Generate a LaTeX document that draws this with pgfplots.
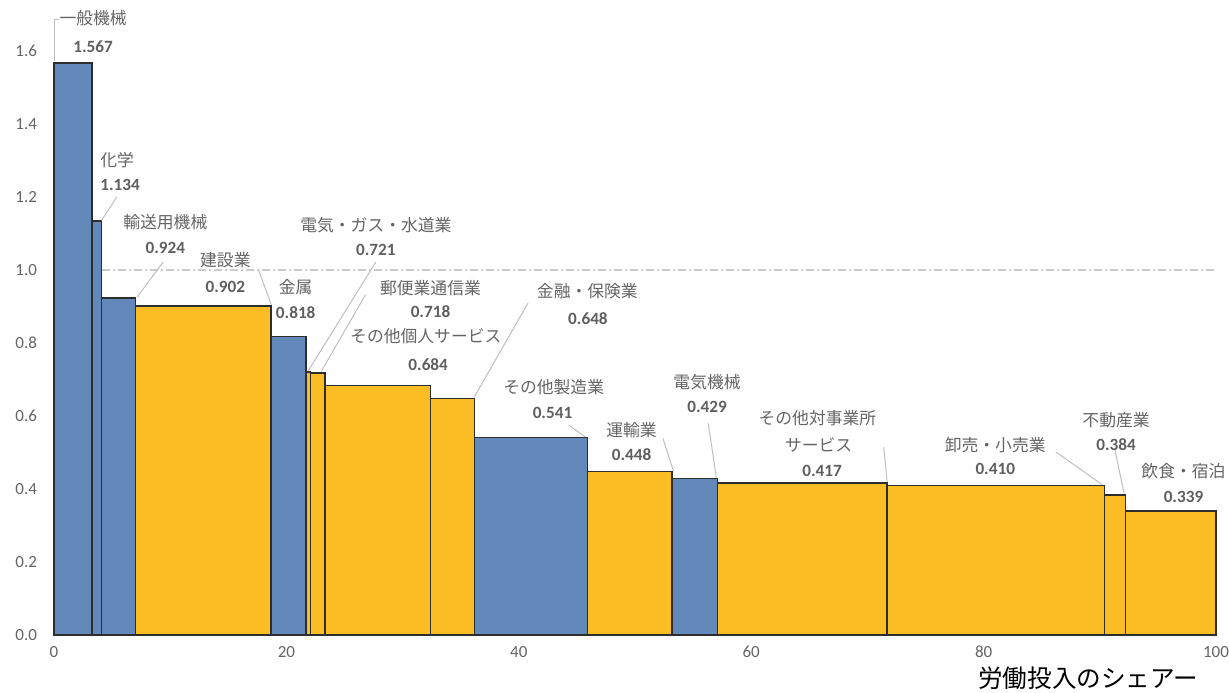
\documentclass[border=0pt]{standalone}
\usepackage{pgfplots}
\pgfplotsset{compat=1.18}
\usepackage{fontspec}
\setmainfont{Carlito}
\newfontfamily\cjk{Noto Sans CJK JP}
\definecolor{mblue}{RGB}{99,137,186}
\definecolor{morange}{RGB}{250,189,36}
\definecolor{txtgrey}{RGB}{100,100,100}
\definecolor{valgrey}{RGB}{95,95,95}
\definecolor{leader}{RGB}{190,190,190}
\definecolor{edge}{RGB}{45,45,45}
\tikzset{
  nm/.style={font=\cjk\fontsize{8.4}{10}\selectfont, text=txtgrey, inner sep=0pt},
  val/.style={font=\bfseries\fontsize{8.6}{10}\selectfont, text=valgrey, inner sep=0pt},
  ld/.style={draw=leader, line width=0.5pt},
}
\begin{document}
\begin{tikzpicture}
\useasboundingbox (-27pt,-28.5pt) rectangle (587.5pt,317.5pt);
\begin{axis}[
  at={(0,0)}, anchor=south west,
  scale only axis, width=581pt, height=313.9pt,
  xmin=0, xmax=100, ymin=0, ymax=1.72,
  axis line style={draw=none},
  major tick length=0pt,
  xtick={0,20,40,60,80,100},
  ytick={0,0.2,0.4,0.6,0.8,1.0,1.2,1.4,1.6},
  yticklabel style={/pgf/number format/fixed, /pgf/number format/fixed zerofill, /pgf/number format/precision=1, xshift=-5pt},
  /pgf/number format/assume math mode=true,
  ticklabel style={font=\fontsize{8.5}{10}\selectfont, text=txtgrey},
  xticklabel style={yshift=-2pt},
  clip=false,
]
% reference line at 1.0
\addplot[draw=leader!80!white, line width=0.6pt, dash pattern=on 4pt off 1.5pt on 1pt off 1.5pt] coordinates {(0,1) (100,1)};
% bars: (left, height) ... (right, height)
\addplot[draw=edge, line width=0.8pt, fill=mblue]   coordinates {(0,1.567) (3.25,1.567)} \closedcycle;   % 一般機械
\addplot[draw=edge, line width=0.8pt, fill=mblue]   coordinates {(3.25,1.134) (4.08,1.134)} \closedcycle; % 化学
\addplot[draw=edge, line width=0.8pt, fill=mblue]   coordinates {(4.08,0.924) (7.0,0.924)} \closedcycle;  % 輸送用機械
\addplot[draw=edge, line width=0.8pt, fill=morange] coordinates {(7.0,0.902) (18.7,0.902)} \closedcycle;  % 建設業
\addplot[draw=edge, line width=0.8pt, fill=mblue]   coordinates {(18.7,0.818) (21.7,0.818)} \closedcycle; % 金属
\addplot[draw=edge, line width=0.8pt, fill=morange] coordinates {(21.7,0.721) (22.07,0.721)} \closedcycle; % 電気・ガス・水道業
\addplot[draw=edge, line width=0.8pt, fill=morange] coordinates {(22.07,0.718) (23.3,0.718)} \closedcycle; % 郵便業通信業
\addplot[draw=edge, line width=0.8pt, fill=morange] coordinates {(23.3,0.684) (32.4,0.684)} \closedcycle; % その他個人サービス
\addplot[draw=edge, line width=0.8pt, fill=morange] coordinates {(32.4,0.648) (36.2,0.648)} \closedcycle; % 金融・保険業
\addplot[draw=edge, line width=0.8pt, fill=mblue]   coordinates {(36.2,0.541) (45.9,0.541)} \closedcycle; % その他製造業
\addplot[draw=edge, line width=0.8pt, fill=morange] coordinates {(45.9,0.448) (53.2,0.448)} \closedcycle; % 運輸業
\addplot[draw=edge, line width=0.8pt, fill=mblue]   coordinates {(53.2,0.429) (57.1,0.429)} \closedcycle; % 電気機械
\addplot[draw=edge, line width=0.8pt, fill=morange] coordinates {(57.1,0.417) (71.7,0.417)} \closedcycle; % その他対事業所サービス
\addplot[draw=edge, line width=0.8pt, fill=morange] coordinates {(71.7,0.410) (90.4,0.410)} \closedcycle; % 卸売・小売業
\addplot[draw=edge, line width=0.8pt, fill=morange] coordinates {(90.4,0.384) (92.2,0.384)} \closedcycle; % 不動産業
\addplot[draw=edge, line width=0.8pt, fill=morange] coordinates {(92.2,0.339) (100,0.339)} \closedcycle;  % 飲食・宿泊
% leader lines
\draw[ld] (axis cs:0,1.572) -- (axis cs:0,1.685) -- (axis cs:0.4,1.685);
\draw[ld] (axis cs:4.1,1.136) -- (axis cs:5.4,1.2);
\draw[ld] (axis cs:7.16,0.926) -- (axis cs:9.4,1.022);
\draw[ld] (axis cs:17.6,1.0) -- (axis cs:18.7,0.905);
\draw[ld] (axis cs:27.7,1.022) -- (axis cs:21.9,0.725);
\draw[ld] (axis cs:26.8,0.932) -- (axis cs:23.0,0.722);
\draw[ld] (axis cs:36.15,0.651) -- (axis cs:40.8,0.910);
\draw[ld] (axis cs:44.3,0.575) -- (axis cs:45.7,0.543);
\draw[ld] (axis cs:52.4,0.539) -- (axis cs:53.3,0.45);
\draw[ld] (axis cs:56.3,0.58) -- (axis cs:57.0,0.431);
\draw[ld] (axis cs:71.4,0.515) -- (axis cs:71.7,0.419);
\draw[ld] (axis cs:86.2,0.502) -- (axis cs:90.2,0.412);
\draw[ld] (axis cs:91.3,0.507) -- (axis cs:92.1,0.386);
% labels
\node[nm]  at (axis cs:3.37,1.690) {一般機械};
\node[val] at (axis cs:3.37,1.611) {1.567};
\node[nm]  at (axis cs:5.44,1.301) {化学};
\node[val] at (axis cs:5.69,1.233) {1.134};
\node[nm]  at (axis cs:9.58,1.132) {輸送用機械};
\node[val] at (axis cs:9.58,1.060) {0.924};
\node[nm]  at (axis cs:14.75,1.027) {建設業};
\node[val] at (axis cs:14.75,0.953) {0.902};
\node[nm]  at (axis cs:20.8,0.953) {金属};
\node[val] at (axis cs:20.8,0.882) {0.818};
\node[nm]  at (axis cs:27.7,1.123) {電気・ガス・水道業};
\node[val] at (axis cs:27.7,1.055) {0.721};
\node[nm]  at (axis cs:32.4,0.951) {郵便業通信業};
\node[val] at (axis cs:32.4,0.885) {0.718};
\node[nm]  at (axis cs:32.0,0.819) {その他個人サービス};
\node[val] at (axis cs:32.2,0.742) {0.684};
\node[nm]  at (axis cs:45.9,0.941) {金融・保険業};
\node[val] at (axis cs:45.95,0.868) {0.648};
\node[nm]  at (axis cs:43.0,0.680) {その他製造業};
\node[val] at (axis cs:42.9,0.609) {0.541};
\node[nm]  at (axis cs:49.7,0.562) {運輸業};
\node[val] at (axis cs:49.7,0.493) {0.448};
\node[nm]  at (axis cs:56.2,0.694) {電気機械};
\node[val] at (axis cs:56.2,0.625) {0.429};
\node[nm]  at (axis cs:65.7,0.595) {その他対事業所};
\node[nm]  at (axis cs:65.8,0.521) {サービス};
\node[val] at (axis cs:66.1,0.449) {0.417};
\node[nm]  at (axis cs:81.0,0.521) {卸売・小売業};
\node[val] at (axis cs:81.0,0.454) {0.410};
\node[nm]  at (axis cs:91.4,0.589) {不動産業};
\node[val] at (axis cs:91.4,0.521) {0.384};
\node[nm]  at (axis cs:97.2,0.448) {飲食・宿泊};
\node[val] at (axis cs:97.2,0.379) {0.339};
% axis title
\node[font=\cjk\fontsize{12.3}{14}\selectfont, text=black, inner sep=0pt] at (axis cs:89.0,-0.118) {労働投入のシェアー};
\end{axis}
\end{tikzpicture}
\end{document}
